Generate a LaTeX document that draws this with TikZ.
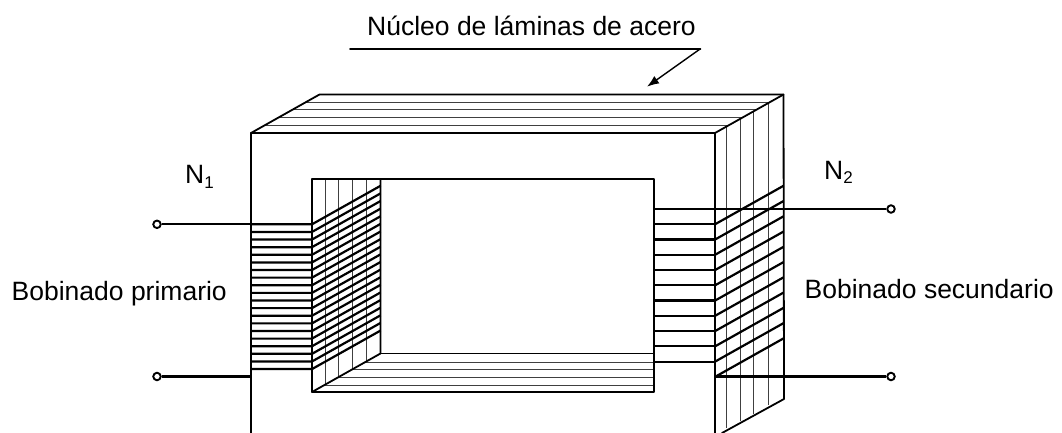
\documentclass[tikz,border=0pt]{standalone}
\usepackage{fontspec}
\setmainfont{Liberation Sans}
\usepackage{tikz}
\usetikzlibrary{calc,arrows.meta}
\tikzset{
  core/.style={draw=black, line width=1.8pt, line cap=round, line join=round},
  lam/.style={draw=black!75, line width=0.95pt},
  coil/.style={draw=black, line width=2.2pt},
  lead/.style={draw=black, line width=2.2pt},
  term/.style={circle, draw=black, fill=white, line width=1.9pt, inner sep=0pt, minimum size=7.5pt},
  lab/.style={text=black, font=\fontsize{26.5}{30}\selectfont, inner sep=0pt, anchor=base west},
}
\newcommand{\subn}[1]{\raisebox{-4.5pt}{\fontsize{17}{20}\selectfont #1}}

\begin{document}
\begin{tikzpicture}[x=1pt,y=-1pt]
  \useasboundingbox (0,0) rectangle (1062,433);
  \def\dx{68.5}
  \def\dy{38.5}
  % front face of the core
  \coordinate (A) at (251,133);
  \coordinate (B) at (715,133);
  \coordinate (C) at (312,179);
  \coordinate (D) at (654,179);
  % top laminations
  \foreach \k in {1,...,4}
    \draw[lam] ($(A)+({\k*\dx/5},{-\k*\dy/5})$) -- ($(B)+({\k*\dx/5},{-\k*\dy/5})$);
  % side laminations
  \foreach \xa/\yb in {726/428,740/420.5,753/413.5,768/405}
    \draw[lam] (\xa,{133-(\xa-715)*\dy/\dx}) -- (\xa,\yb);
  % window laminations
  \foreach \xa in {325,338,352,366}
    \draw[lam] (\xa,179) -- (\xa,{392-(\xa-312)*\dy/\dx});
  \foreach \yb/\xa in {362/366,369/352,377/338,385/325}
    \draw[lam] (\xa,\yb) -- (654,\yb);
  % outline
  \draw[core] (251,433) -- (A) -- (B) -- (715,433);
  \draw[core] (A) -- ++(\dx,-\dy) -- ++(464,0) -- (784,399) -- (722,433);
  \draw[core] (B) -- ++(\dx,-\dy);
  \draw[core] (312,392) -- (C) -- (D) -- (654,392) -- cycle;
  \draw[core] (312,392) -- ++(\dx,-\dy) -- (380.5,179);
  \draw[core] (380.5,353.5) -- (654,353.5);
  % primary winding
  \foreach \k in {0,...,19} {
    \draw[coil] (251,{224.3+\k*7.62}) -- (312,{224.3+\k*7.62}) -- ++(\dx,-\dy);
  }
  % secondary winding
  \foreach \k in {0,...,10} {
    \draw[coil] (654,{209+\k*15.26}) -- (715,{209+\k*15.26});
    \draw[coil] (715,{224.3+\k*15.26}) -- ++(\dx,-\dy);
  }
  % terminals
  \node[term] (T1) at (157,224.3) {};
  \node[term] (T2) at (157,376.5) {};
  \node[term] (T3) at (891,209) {};
  \node[term] (T4) at (891,376.5) {};
  \coordinate (P1) at (251,224.3);
  \coordinate (P2) at (251,376.5);
  \coordinate (S1) at (654,209);
  \coordinate (S2) at (715,376.5);
  \draw[lead] (T1) -- (P1);
  \draw[lead] (T2) -- (P2);
  \draw[lead] (T3) -- (S1);
  \draw[lead] (T4) -- (S2);
  % labels
  \node[lab] (nucleo) at (367,36) {Núcleo de láminas de acero};
  \node[lab] (prim) at (11.5,300.5) {Bobinado primario};
  \node[lab] (sec) at (804.5,298.5) {Bobinado secundario};
  \node[lab] (n1) at (185,183.5) {N\subn{1}};
  \node[lab] (n2) at (824,179) {N\subn{2}};
  % callout
  \coordinate (L1) at (350,48.7);
  \coordinate (L2) at (700.5,48.7);
  \coordinate (L3) at (647,86.7);
  \draw[core] (L1) -- (L2);
  \draw[lead,line width=1.4pt,-{Latex[length=12pt,width=9pt]}] (L2) -- (L3);
\end{tikzpicture}
\end{document}
